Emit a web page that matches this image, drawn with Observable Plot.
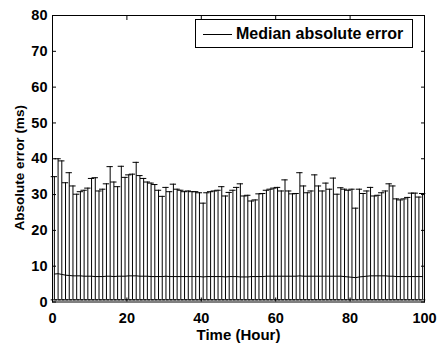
<!DOCTYPE html>
<html>
<head>
<meta charset="utf-8">
<script src="https://cdn.jsdelivr.net/npm/d3@7"></script>
<script src="https://cdn.jsdelivr.net/npm/@observablehq/plot@0.6"></script>
<style>
  html, body { margin: 0; padding: 0; background: #fff; }
  #wrap { position: relative; width: 437px; height: 348px; font-family: "Liberation Sans", Arial, sans-serif; }
  #legend { position: absolute; left: 195px; top: 19px; width: 216px; height: 27px; border: 1px solid #000; background: #fff; box-sizing: content-box; }
  #legend .ln { position: absolute; left: 7px; top: 14px; width: 29px; height: 0; border-top: 1px solid #000; }
  #legend .tx { position: absolute; left: 40px; top: 4px; font-weight: bold; font-size: 16px; white-space: nowrap; line-height: 19px; }
</style>
</head>
<body>
<div id="wrap">
  <div id="chart"></div>
  <div id="legend"><div class="ln"></div><div class="tx">Median absolute error</div></div>
</div>
<script>
const hours = [0.5,1.5,2.5,3.5,4.5,5.5,6.5,7.5,8.5,9.5,10.5,11.5,12.5,13.5,14.5,15.5,16.5,17.5,18.5,19.5,
  20.5,21.5,22.5,23.5,24.5,25.5,26.5,27.5,28.5,29.5,30.5,31.5,32.5,33.5,34.5,35.5,36.5,37.5,38.5,39.5,
  40.5,41.5,42.5,43.5,44.5,45.5,46.5,47.5,48.5,49.5,50.5,51.5,52.5,53.5,54.5,55.5,56.5,57.5,58.5,59.5,
  60.5,61.5,62.5,63.5,64.5,65.5,66.5,67.5,68.5,69.5,70.5,71.5,72.5,73.5,74.5,75.5,76.5,77.5,78.5,79.5,
  80.5,81.5,82.5,83.5,84.5,85.5,86.5,87.5,88.5,89.5,90.5,91.5,92.5,93.5,94.5,95.5,96.5,97.5,98.5,99.5];

const upper = [35,40,39.4,33.3,36.1,32.4,30.1,30.8,31.2,31.8,34.5,34.7,31.0,31.5,33.0,37.8,33.5,32.2,37.9,34.8,
  35.5,35.7,39.0,35.3,34.5,33.5,33.2,32.8,31.2,29.5,32.0,30.8,32.9,31.5,31.2,30.8,31.0,30.8,30.8,30.5,
  27.6,30.5,30.8,31.0,31.2,32.2,29.6,30.6,31.2,32.0,33.0,29.6,29.8,28.2,28.5,30.2,30.3,31.2,31.5,31.8,
  32.0,31.0,34.1,31.0,30.2,30.3,36.1,32.4,30.5,31.0,35.5,32.4,31.0,33.2,31.5,34.6,30.1,31.9,31.5,31.2,
  31.5,26.2,31.5,30.3,31.0,32.0,29.6,29.8,30.5,31.0,33.0,32.4,28.8,28.5,28.8,29.2,30.4,30.4,29.3,30.3];

const median = [7.8,7.9,7.7,7.5,7.4,7.3,7.3,7.3,7.2,7.2,7.2,7.1,7.1,7.1,7.2,7.2,7.1,7.2,7.2,7.2,
  7.3,7.3,7.3,7.2,7.2,7.2,7.1,7.1,7.1,7.1,7.2,7.1,7.1,7.1,7.1,7.1,7.1,7.1,7.1,7.1,
  7.0,7.1,7.1,7.1,7.1,7.1,7.0,7.1,7.1,7.1,7.0,7.0,7.0,7.1,7.1,7.1,7.1,7.2,7.2,7.2,
  7.2,7.2,7.2,7.2,7.2,7.2,7.3,7.2,7.2,7.2,7.2,7.2,7.2,7.2,7.2,7.2,7.2,7.2,7.1,7.0,
  6.9,6.8,7.0,7.1,7.2,7.3,7.3,7.3,7.3,7.3,7.2,7.2,7.1,7.1,7.1,7.1,7.1,7.1,7.1,7.1];

const lower = [0.6,0.6,0.6,0.6,0.6,0.6,0.6,0.6,0.6,0.6,0.6,0.6,0.6,0.6,0.6,0.6,0.6,0.6,0.6,0.6,
  0.6,0.6,0.6,0.6,0.6,0.6,0.6,0.6,0.6,0.6,0.6,0.6,0.6,0.6,0.6,0.6,0.6,0.6,0.6,0.6,
  0.6,0.6,0.6,0.6,0.6,0.6,0.6,0.6,0.6,0.6,0.6,0.6,0.6,0.6,0.6,0.6,0.6,0.6,0.6,0.6,
  0.6,0.6,0.6,0.6,0.6,0.6,0.6,0.6,0.6,0.6,0.6,0.6,0.6,0.6,0.6,0.6,0.6,0.6,0.6,0.6,
  0.6,0.6,0.6,0.6,0.6,0.6,0.6,0.6,0.6,0.6,0.6,0.6,0.6,0.6,0.6,0.6,0.6,0.6,0.6,0.6];

const xTicks = [0, 20, 40, 60, 80, 100];
const yTicks = [0, 10, 20, 30, 40, 50, 60, 70, 80];
const xLabel = "Time (Hour)";
const yLabel = "Absolute error (ms)";

const data = hours.map((h, i) => ({hour: h, upper: upper[i], median: median[i], lower: lower[i]}));
const capHalf = 0.85;

const chart = Plot.plot({
  width: 437,
  height: 348,
  marginLeft: 52,
  marginRight: 13,
  marginTop: 15,
  marginBottom: 46.5,
  style: {fontFamily: "'Liberation Sans', Arial, sans-serif", fontWeight: "bold", fontSize: "14px", color: "#000", background: "#fff"},
  x: {domain: [0, 100]},
  y: {domain: [0, 80]},
  marks: [
    Plot.ruleX(data, {x: "hour", y1: "lower", y2: "upper", stroke: "#000", strokeWidth: 1}),
    Plot.ruleY(data, {y: "upper", x1: d => d.hour - capHalf, x2: d => d.hour + capHalf, stroke: "#000", strokeWidth: 1}),
    Plot.ruleY(data, {y: "lower", x1: d => d.hour - capHalf, x2: d => d.hour + capHalf, stroke: "#000", strokeWidth: 1}),
    Plot.line(data, {x: "hour", y: "median", stroke: "#000", strokeWidth: 1}),
    Plot.frame({stroke: "#000", strokeWidth: 1}),
    Plot.axisX({ticks: xTicks, tickSize: -4, text: null, label: null}),
    Plot.axisX({anchor: "top", ticks: xTicks, tickSize: -4, text: null, label: null}),
    Plot.axisY({ticks: yTicks, tickSize: -4, text: null, label: null}),
    Plot.axisY({anchor: "right", ticks: yTicks, tickSize: -4, text: null, label: null}),
    Plot.axisX({ticks: xTicks, tickSize: 0, tickPadding: 11, label: null, fontSize: 14.5, fontWeight: "bold"}),
    Plot.axisY({ticks: yTicks, tickSize: 0, tickPadding: 5, label: null, fontSize: 14.5, fontWeight: "bold"}),
    Plot.text([xLabel], {frameAnchor: "bottom", lineAnchor: "middle", textAnchor: "middle", dy: 33, text: d => d, fontSize: 15, fontWeight: "bold", fill: "#000"}),
    Plot.text([yLabel], {frameAnchor: "left", lineAnchor: "middle", textAnchor: "middle", dx: -33, dy: 9, rotate: -90, text: d => d, fontSize: 13.5, fontWeight: "bold", fill: "#000"})
  ]
});
document.getElementById("chart").appendChild(chart);
</script>
</body>
</html>
